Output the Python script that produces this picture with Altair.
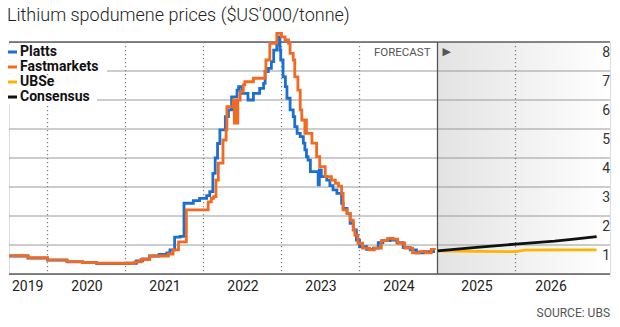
import altair as alt
import pandas as pd

TITLE = "Lithium spodumene prices ($US'000/tonne)"
SOURCE = "SOURCE: UBS"
FORECAST_LABEL = "FORECAST"
FORECAST_ARROW = "▶"

series_names = ["Platts", "Fastmarkets", "UBSe", "Consensus"]
series_colors = ["#1b6fd0", "#f26a21", "#ffb400", "#111111"]

# (decimal year, US$'000/t)
platts = [
    (2019.51, 0.62), (2019.75, 0.55), (2020.0, 0.48), (2020.25, 0.42), (2020.45, 0.39),
    (2020.63, 0.36), (2021.0, 0.37), (2021.14, 0.45), (2021.22, 0.52), (2021.31, 0.62),
    (2021.43, 0.68), (2021.53, 0.73), (2021.57, 0.83), (2021.63, 1.27), (2021.70, 1.30),
    (2021.75, 2.44), (2021.87, 2.53), (2021.95, 2.61), (2022.04, 2.70), (2022.08, 2.84),
    (2022.12, 3.47), (2022.15, 4.0), (2022.18, 4.5), (2022.21, 4.97), (2022.28, 5.43),
    (2022.32, 5.66), (2022.36, 6.11), (2022.43, 6.34), (2022.45, 6.46), (2022.49, 6.23),
    (2022.57, 6.0), (2022.64, 6.23), (2022.72, 6.40), (2022.77, 6.57), (2022.79, 6.98),
    (2022.83, 7.09), (2022.87, 7.32), (2022.90, 7.72), (2022.94, 7.90), (2022.96, 8.18),
    (2022.98, 7.72), (2022.99, 7.38), (2023.02, 6.80), (2023.05, 6.46), (2023.07, 6.06),
    (2023.11, 5.66), (2023.15, 5.43), (2023.17, 5.08), (2023.20, 4.85), (2023.24, 4.74),
    (2023.28, 4.51), (2023.30, 4.28), (2023.32, 4.05), (2023.34, 3.93), (2023.37, 3.53),
    (2023.47, 3.07), (2023.485, 3.59), (2023.51, 3.36), (2023.58, 3.24), (2023.62, 3.05),
    (2023.66, 2.90), (2023.71, 2.78), (2023.77, 2.44), (2023.79, 2.26), (2023.84, 2.09),
    (2023.88, 1.75), (2023.92, 1.52), (2023.96, 1.17), (2024.0, 0.94), (2024.09, 0.85),
    (2024.18, 0.89), (2024.24, 1.08), (2024.30, 1.15), (2024.39, 1.17), (2024.48, 1.08),
    (2024.56, 0.91), (2024.65, 0.83), (2024.73, 0.73), (2024.82, 0.77), (2024.90, 0.77),
    (2024.95, 0.85),
]

fastmarkets = [
    (2019.51, 0.63), (2019.75, 0.56), (2020.0, 0.49), (2020.25, 0.43), (2020.45, 0.39),
    (2020.63, 0.37), (2021.0, 0.37), (2021.12, 0.42), (2021.2, 0.50), (2021.31, 0.62),
    (2021.55, 0.69), (2021.61, 0.83), (2021.68, 1.11), (2021.78, 2.21), (2022.06, 2.49),
    (2022.10, 2.61), (2022.13, 2.67), (2022.16, 3.24), (2022.19, 3.82), (2022.25, 4.62),
    (2022.29, 4.97), (2022.30, 5.77), (2022.38, 6.0), (2022.395, 5.2), (2022.41, 6.0),
    (2022.425, 5.2), (2022.44, 6.0), (2022.47, 6.29), (2022.51, 6.52), (2022.53, 6.63),
    (2022.64, 6.75), (2022.79, 6.98), (2022.80, 7.38), (2022.85, 7.95), (2022.94, 8.30),
    (2023.00, 8.18), (2023.045, 8.07), (2023.09, 7.95), (2023.11, 7.61), (2023.15, 7.38),
    (2023.17, 6.80), (2023.21, 6.34), (2023.24, 5.66), (2023.26, 5.31), (2023.30, 4.85),
    (2023.31, 5.31), (2023.32, 4.85), (2023.39, 4.51), (2023.45, 4.05), (2023.49, 3.70),
    (2023.56, 3.36), (2023.64, 3.24), (2023.69, 3.13), (2023.73, 3.03), (2023.77, 2.78),
    (2023.79, 2.21), (2023.84, 2.09), (2023.88, 1.86), (2023.92, 1.52), (2023.94, 1.34),
    (2023.98, 1.06), (2024.04, 0.89), (2024.13, 0.83), (2024.19, 0.89), (2024.28, 1.15),
    (2024.36, 1.23), (2024.43, 1.20), (2024.49, 1.06), (2024.58, 0.89), (2024.68, 0.73),
    (2024.77, 0.77), (2024.86, 0.73), (2024.92, 0.85), (2024.96, 0.83),
]

ubse = [(2025.0, 0.80), (2025.5, 0.78), (2026.0, 0.77), (2026.12, 0.82), (2026.5, 0.83), (2027.04, 0.83)]
consensus = [(2025.0, 0.80), (2025.5, 0.92), (2026.0, 1.03), (2026.5, 1.13), (2026.75, 1.20), (2027.04, 1.29)]

year_labels = [2019, 2020, 2021, 2022, 2023, 2024, 2025, 2026]
year_label_pos = [2019.74, 2020.5, 2021.5, 2022.5, 2023.5, 2024.5, 2025.5, 2026.45]
year_boundaries = [2020, 2021, 2022, 2023, 2024, 2026]
forecast_start = 2025.0
y_ticks = [0, 1, 2, 3, 4, 5, 6, 7, 8]

X_DOMAIN = [2019.5064, 2027.2115]
W, H = 601, 232
FONT = "Roboto"

def frame(pairs, name):
    return pd.DataFrame({"t": [p[0] for p in pairs], "v": [p[1] for p in pairs], "series": name})

hist_df = pd.concat([frame(platts, "Platts"), frame(fastmarkets, "Fastmarkets")])
fc_df = pd.concat([frame(ubse, "UBSe"), frame(consensus, "Consensus")])

xscale = alt.Scale(domain=X_DOMAIN, nice=False, zero=False)
yscale = alt.Scale(domain=[0, 8], nice=False)
xaxis = alt.Axis(values=year_label_pos, labelExpr="'' + floor(datum.value)", ticks=False, grid=False,
                 domain=False, title=None, labelFont=FONT, labelFontSize=14, labelColor="#222",
                 labelPadding=5, labelOverlap=False, labelFlush=False)
X = lambda f="t": alt.X(f"{f}:Q", scale=xscale, axis=xaxis)
Y = lambda f="v": alt.Y(f"{f}:Q", scale=yscale, axis=None)
color = alt.Color("series:N", scale=alt.Scale(domain=series_names, range=series_colors), legend=None)

# forecast shading
shade = alt.Chart(pd.DataFrame({"t": [forecast_start], "t2": [X_DOMAIN[1]]})).mark_rect(
    color=alt.Gradient(gradient="linear",
                       stops=[alt.GradientStop(color="#e3e3e3", offset=0),
                              alt.GradientStop(color="#ffffff", offset=1)],
                       x1=0, x2=1, y1=0, y2=0)
).encode(x=X(), x2="t2:Q", y=alt.value(0), y2=alt.value(H))

grid = alt.Chart(pd.DataFrame({"v": y_ticks})).mark_rule(strokeWidth=1).encode(
    y=Y(),
    color=alt.condition("datum.v == 0 || datum.v == 8", alt.value("#111"), alt.value("#9a9a9a")),
    strokeWidth=alt.condition("datum.v == 0", alt.value(1.6), alt.value(1)),
)

dotted = alt.Chart(pd.DataFrame({"t": year_boundaries})).mark_rule(
    color="#808080", strokeWidth=1.3, strokeDash=[1.3, 2.7]
).encode(x=X())

fline = alt.Chart(pd.DataFrame({"t": [forecast_start]})).mark_rule(color="#555", strokeWidth=1.3).encode(x=X())

hist = alt.Chart(hist_df).mark_line(interpolate="step-after", strokeWidth=2.8).encode(
    x=X(), y=Y(), color=color, detail="series:N",
    order=alt.Order("t:Q"),
)
fc = alt.Chart(fc_df).mark_line(strokeWidth=2.8).encode(
    x=X(), y=Y(), color=color, detail="series:N", order=alt.Order("t:Q"),
)

# legend (manual)
leg_layers = []
label_widths = {"Platts": 40, "Fastmarkets": 80, "UBSe": 35, "Consensus": 70}
for i, (name, col) in enumerate(zip(series_names, series_colors)):
    yc = 10 + 15 * i
    d = pd.DataFrame({"series": [name]})
    leg_layers.append(alt.Chart(d).mark_rect(color="white").encode(
        x=alt.value(0), x2=alt.value(11 + label_widths[name] + 7),
        y=alt.value(yc - 7), y2=alt.value(yc + 7)))
    leg_layers.append(alt.Chart(d).mark_rule(color=col, strokeWidth=3).encode(
        x=alt.value(-1), x2=alt.value(8), y=alt.value(yc)))
    leg_layers.append(alt.Chart(d).mark_text(align="left", baseline="middle", font=FONT,
                                             fontSize=14, fontWeight="bold", color="#111").encode(
        text="series:N", x=alt.value(11), y=alt.value(yc)))

ylabels = alt.Chart(pd.DataFrame({"v": y_ticks[1:]})).mark_text(
    align="right", baseline="middle", dy=11, font=FONT, fontSize=14, color="#333"
).encode(y=Y(), x=alt.value(W), text="v:Q")

ann = pd.DataFrame({"t": [forecast_start], "label": [FORECAST_LABEL], "arrow": [FORECAST_ARROW]})
ftext = alt.Chart(ann).mark_text(align="right", baseline="middle", dx=-7, font=FONT, fontSize=11.5,
                                 color="#555").encode(x=X(), y=alt.value(10.5), text="label:N")
farrow = alt.Chart(ann).mark_text(align="left", baseline="middle", dx=5, font="DejaVu Sans", fontSize=11,
                                  color="#555").encode(x=X(), y=alt.value(10), text="arrow:N")

txt = pd.DataFrame({"title": [TITLE], "source": [SOURCE]})
title = alt.Chart(txt).mark_text(align="left", baseline="alphabetic", font=FONT, fontSize=18,
                                 fontWeight=300, color="#222").encode(
    text="title:N", x=alt.value(-2), y=alt.value(-21))
source = alt.Chart(txt).mark_text(align="right", baseline="middle", font=FONT, fontSize=12,
                                  color="#555").encode(
    text="source:N", x=alt.value(W), y=alt.value(271))

chart = alt.layer(shade, grid, dotted, fline, hist, fc, *leg_layers, ylabels, ftext, farrow, title, source).properties(
    width=W, height=H,
    autosize=alt.AutoSizeParams(type="none"),
    padding={"left": 9, "top": 42, "right": 10, "bottom": 53},
).configure_view(stroke=None).configure(background="white")

chart.save("out.html", embed_options={"renderer": "svg", "actions": False})
